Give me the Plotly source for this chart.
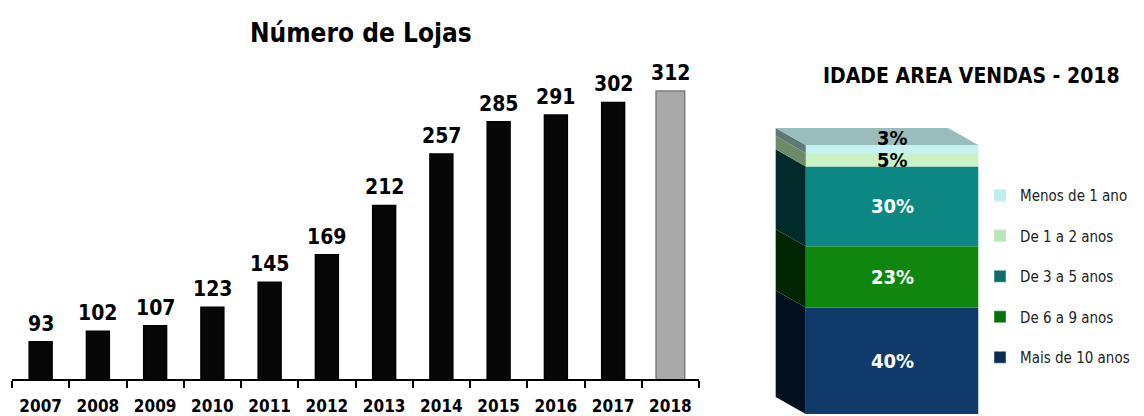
import plotly.graph_objects as go

# ---- data ----
years = ["2007", "2008", "2009", "2010", "2011", "2012", "2013", "2014",
         "2015", "2016", "2017", "2018"]
stores = [93, 102, 107, 123, 145, 169, 212, 257, 285, 291, 302, 312]

age_labels = ["Mais de 10 anos", "De 6 a 9 anos", "De 3 a 5 anos",
              "De 1 a 2 anos", "Menos de 1 ano"]
age_share = [40, 23, 30, 5, 3]

FONT = "DejaVu Sans Condensed, Liberation Sans Narrow, DejaVu Sans, sans-serif"

W, H = 1144, 416
fig = go.Figure()

# ---------------- left chart: Número de Lojas ----------------
n = len(years)
bar_colors = ["#070707"] * (n - 1) + ["#a9a9a9"]
line_colors = ["#000000"] * (n - 1) + ["#7c7c7c"]
widths = [0.4] * (n - 1) + [0.5]
fig.add_trace(go.Bar(
    x=years, y=stores, xaxis="x", yaxis="y",
    marker=dict(color=bar_colors, line=dict(color=line_colors, width=1.5)),
    width=widths, showlegend=False, hoverinfo="x+y",
))
annots = []
for i, v in enumerate(stores):
    annots.append(dict(
        x=i, y=v, xref="x", yref="y", text=str(v), showarrow=False,
        yanchor="bottom", yshift=4,
        font=dict(family=FONT, size=21, color="#000", weight="bold"),
    ))

# ---------------- right chart: stacked 3D-like bar ----------------
front_colors = ["#0f3a6a", "#0f870f", "#0c8783", "#cbf2c6", "#c6f1f1"]
side_colors = ["#02101f", "#012601", "#012b2a", "#6e8a68", "#5f7a76"]
legend_colors = ["#0b2d58", "#0a700a", "#0d6e6c", "#b8e6b4", "#bfeeee"]
top_color = "#98bdbc"
DX, DY = 0.174, 6.4   # depth of the 3D effect (axis units)

cum = 0
for lab, v, fc, sc in zip(age_labels, age_share, front_colors, side_colors):
    fig.add_trace(go.Bar(
        x=[0], y=[v], base=[cum], width=1.0, name=lab,
        xaxis="x2", yaxis="y2",
        marker=dict(color=fc, line=dict(width=0)),
        showlegend=False, hoverinfo="name+y",
    ))
    a, b = cum, cum + v
    fig.add_trace(go.Scatter(
        x=[-0.5, -0.5, -0.5 - DX, -0.5 - DX, -0.5],
        y=[a, b, b + DY, a + DY, a],
        xaxis="x2", yaxis="y2", mode="lines", fill="toself",
        fillcolor=sc, line=dict(width=0, color=sc),
        showlegend=False, hoverinfo="skip",
    ))
    cum += v
total = cum
fig.add_trace(go.Scatter(
    x=[-0.5, 0.5, 0.5 - DX, -0.5 - DX, -0.5],
    y=[total, total, total + DY, total + DY, total],
    xaxis="x2", yaxis="y2", mode="lines", fill="toself",
    fillcolor=top_color, line=dict(width=0, color=top_color),
    showlegend=False, hoverinfo="skip",
))
# legend entries, top item first
for lab, lc in zip(age_labels[::-1], legend_colors[::-1]):
    fig.add_trace(go.Bar(
        x=[None], y=[None], name=lab, xaxis="x2", yaxis="y2",
        marker=dict(color=lc), legendgroup="lg_" + lab, showlegend=True,
    ))

cum = 0
for v in age_share:
    mid = cum + v / 2
    small = v < 10
    shift = 11 if (cum + v == total and small) else 0
    annots.append(dict(
        x=0, y=mid, xref="x2", yref="y2", text=f"{v}%", showarrow=False,
        yshift=shift,
        font=dict(family=FONT, size=20, weight="bold",
                  color="#000" if small else "#fff"),
    ))
    cum += v

annots += [
    dict(text="Número de Lojas", x=361 / W, y=(H - 33) / H,
         xref="paper", yref="paper", showarrow=False,
         xanchor="center", yanchor="middle",
         font=dict(family=FONT, size=26, weight="bold", color="#000")),
    dict(text="IDADE AREA VENDAS - 2018", x=971 / W, y=(H - 76) / H,
         xref="paper", yref="paper", showarrow=False,
         xanchor="center", yanchor="middle",
         font=dict(family=FONT, size=21, weight="bold", color="#000")),
]

fig.update_layout(
    width=W, height=H,
    margin=dict(l=0, r=0, t=0, b=0, autoexpand=False),
    paper_bgcolor="#fff", plot_bgcolor="rgba(0,0,0,0)",
    barmode="overlay",
    font=dict(family=FONT, color="#000"),
    xaxis=dict(
        domain=[12 / W, 699 / W], type="category", range=[-0.5, n - 0.5],
        showline=True, linecolor="#000", linewidth=1.5,
        ticks="outside", tickson="boundaries", ticklen=7, tickcolor="#000",
        tickwidth=1.5, ticklabelstandoff=11, tickangle=0, automargin=False,
        tickfont=dict(family=FONT, size=17, color="#000", weight="bold"),
        showgrid=False, zeroline=False, fixedrange=True,
    ),
    yaxis=dict(
        domain=[(H - 379) / H, (H - 40) / H], range=[60.4, 356.5],
        visible=False, showgrid=False, zeroline=False, automargin=False,
    ),
    xaxis2=dict(
        domain=[762.6 / W, 986.9 / W], range=[-0.75, 0.55], anchor="y2",
        visible=False, showgrid=False, zeroline=False, automargin=False,
    ),
    yaxis2=dict(
        domain=[0, 1], range=[-0.75, 155.5], anchor="x2",
        visible=False, showgrid=False, zeroline=False, automargin=False,
    ),
    legend=dict(
        x=980 / W, y=(H - 179) / H, xanchor="left", yanchor="top",
        traceorder="grouped", tracegroupgap=18,
        font=dict(family=FONT, size=15, color="#222"),
        bgcolor="rgba(0,0,0,0)", itemwidth=30,
    ),
    annotations=annots,
)

fig.write_html(
    "out.html",
    config={"displayModeBar": False},
    post_script="document.body.style.margin='0';document.body.style.padding='0';",
)
